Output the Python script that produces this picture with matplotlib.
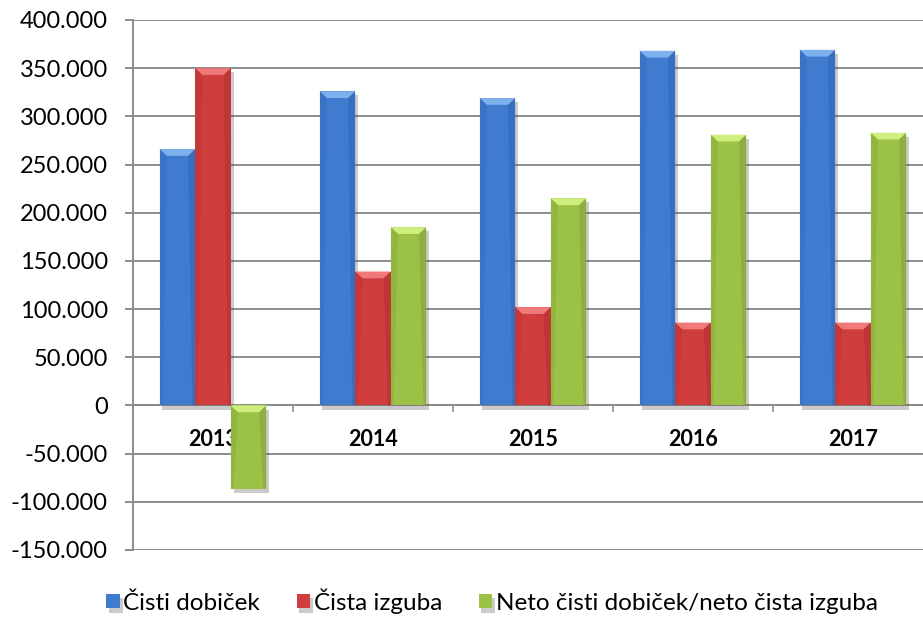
import matplotlib
matplotlib.use("Agg")
import matplotlib.pyplot as plt
import matplotlib.patheffects as pe
from matplotlib.patches import Polygon
from matplotlib.ticker import FuncFormatter, FixedLocator
import numpy as np

plt.rcParams['font.family'] = ['Lato', 'DejaVu Sans']

years = ['2013', '2014', '2015', '2016', '2017']
cisti_dobicek = [266000, 326000, 319000, 368000, 369000]
cista_izguba = [350000, 139000, 102000, 86000, 86000]
neto = [-86500, 185000, 215000, 281000, 283000]
series_names = ['Čisti dobiček', 'Čista izguba', 'Neto čisti dobiček/neto čista izguba']
yticks = list(range(-150000, 400001, 50000))

colors = ['#3f7bcf', '#cf3d3d', '#9bc247']
light = ['#7fb0ee', '#f07a7a', '#cfee7e']
dark = ['#2d5ea6', '#a52b2b', '#76962f']

W, H = 923, 619
fig = plt.figure(figsize=(W / 100, H / 100), dpi=100)
ax = fig.add_axes([133 / W, 69 / H, 800 / W, 530 / H])

x = np.arange(len(years))
bw = 0.222
offsets = [-bw, 0, bw]
data = [cisti_dobicek, cista_izguba, neto]
bev_h = 7000
bev_w = 0.045

for i, (vals, off) in enumerate(zip(data, offsets)):
    ax.bar(x + off, vals, width=bw, color=colors[i], edgecolor='none',
           label=series_names[i], zorder=3,
           path_effects=[pe.SimplePatchShadow(offset=(2, -3), alpha=0.3, shadow_rgbFace='#555555'), pe.Normal()])
    for xc, v in zip(x + off, vals):
        x0, x1 = xc - bw / 2, xc + bw / 2
        top = max(v, 0)
        bot = min(v, 0)
        ax.add_patch(Polygon([(x0, top), (x1, top), (x1 - bev_w, top - bev_h), (x0 + bev_w, top - bev_h)],
                             closed=True, facecolor=light[i], edgecolor='none', zorder=4))
        ax.add_patch(Polygon([(x0, top), (x0 + bev_w, top - bev_h), (x0 + bev_w * 0.4, bot), (x0, bot)],
                             closed=True, facecolor=dark[i], edgecolor='none', alpha=0.25, zorder=4))
        ax.add_patch(Polygon([(x1, top), (x1 - bev_w, top - bev_h), (x1 - bev_w * 0.4, bot), (x1, bot)],
                             closed=True, facecolor=dark[i], edgecolor='none', alpha=0.4, zorder=4))

ax.set_xlim(-0.5, len(years) - 0.5)
ax.set_ylim(-150000, 400000)
ax.set_yticks(yticks)
ax.yaxis.set_major_formatter(FuncFormatter(lambda v, p: f"{int(v):,}".replace(',', '.')))
ax.grid(axis='y', color='#8c8c8c', linewidth=1.4, zorder=0)
ax.set_axisbelow(True)

for s in ['top', 'right']:
    ax.spines[s].set_visible(False)
ax.spines['left'].set_color('#8c8c8c')
ax.spines['left'].set_linewidth(1.4)
ax.spines['bottom'].set_position(('data', 0))
ax.spines['bottom'].set_color('#8c8c8c')
ax.spines['bottom'].set_linewidth(1.4)

ax.set_xticks(x)
ax.set_xticklabels(years, fontsize=15.5, fontweight='bold')
ax.tick_params(axis='x', which='major', length=0, pad=17)
ax.xaxis.set_minor_locator(FixedLocator(np.arange(-0.5, len(years), 1.0)))
ax.tick_params(axis='x', which='minor', length=5, width=1.2, color='#8c8c8c', direction='out')
ax.tick_params(axis='y', length=6, width=1.4, color='#8c8c8c', labelsize=17, pad=12)

fig.legend(loc='center', bbox_to_anchor=(492 / W, 1 - 601 / H), ncol=3, frameon=False,
           fontsize=17.5, handlelength=0.55, handleheight=0.55, handletextpad=0.15, columnspacing=1.5)

fig.savefig('out.png', dpi=100)
